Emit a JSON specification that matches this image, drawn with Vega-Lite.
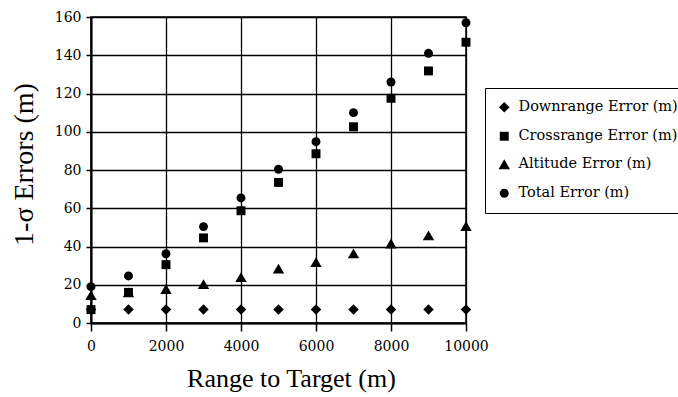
{
  "$schema": "https://vega.github.io/schema/vega-lite/v6.json",
  "width": 375,
  "height": 306,
  "autosize": "none",
  "padding": {"left": 91, "top": 17, "right": 212, "bottom": 74},
  "background": "white",
  "data": {
    "values": [
      {"range": 0, "type": "Downrange Error (m)", "value": 7},
      {"range": 1000, "type": "Downrange Error (m)", "value": 7},
      {"range": 2000, "type": "Downrange Error (m)", "value": 7},
      {"range": 3000, "type": "Downrange Error (m)", "value": 7},
      {"range": 4000, "type": "Downrange Error (m)", "value": 7},
      {"range": 5000, "type": "Downrange Error (m)", "value": 7},
      {"range": 6000, "type": "Downrange Error (m)", "value": 7},
      {"range": 7000, "type": "Downrange Error (m)", "value": 7},
      {"range": 8000, "type": "Downrange Error (m)", "value": 7},
      {"range": 9000, "type": "Downrange Error (m)", "value": 7},
      {"range": 10000, "type": "Downrange Error (m)", "value": 7},
      {"range": 0, "type": "Crossrange Error (m)", "value": 7},
      {"range": 1000, "type": "Crossrange Error (m)", "value": 16},
      {"range": 2000, "type": "Crossrange Error (m)", "value": 30.5},
      {"range": 3000, "type": "Crossrange Error (m)", "value": 44.5},
      {"range": 4000, "type": "Crossrange Error (m)", "value": 58.7},
      {"range": 5000, "type": "Crossrange Error (m)", "value": 73.5},
      {"range": 6000, "type": "Crossrange Error (m)", "value": 88.5},
      {"range": 7000, "type": "Crossrange Error (m)", "value": 102.6},
      {"range": 8000, "type": "Crossrange Error (m)", "value": 117.5},
      {"range": 9000, "type": "Crossrange Error (m)", "value": 131.8},
      {"range": 10000, "type": "Crossrange Error (m)", "value": 146.8},
      {"range": 0, "type": "Altitude Error (m)", "value": 14.6},
      {"range": 1000, "type": "Altitude Error (m)", "value": 16},
      {"range": 2000, "type": "Altitude Error (m)", "value": 17.8},
      {"range": 3000, "type": "Altitude Error (m)", "value": 20.3},
      {"range": 4000, "type": "Altitude Error (m)", "value": 24},
      {"range": 5000, "type": "Altitude Error (m)", "value": 28.4},
      {"range": 6000, "type": "Altitude Error (m)", "value": 31.8},
      {"range": 7000, "type": "Altitude Error (m)", "value": 36.4},
      {"range": 8000, "type": "Altitude Error (m)", "value": 41.6},
      {"range": 9000, "type": "Altitude Error (m)", "value": 45.8},
      {"range": 10000, "type": "Altitude Error (m)", "value": 50.7},
      {"range": 0, "type": "Total Error (m)", "value": 19},
      {"range": 1000, "type": "Total Error (m)", "value": 24.6},
      {"range": 2000, "type": "Total Error (m)", "value": 36.2},
      {"range": 3000, "type": "Total Error (m)", "value": 50.4},
      {"range": 4000, "type": "Total Error (m)", "value": 65.4},
      {"range": 5000, "type": "Total Error (m)", "value": 80.4},
      {"range": 6000, "type": "Total Error (m)", "value": 94.8},
      {"range": 7000, "type": "Total Error (m)", "value": 110},
      {"range": 8000, "type": "Total Error (m)", "value": 126},
      {"range": 9000, "type": "Total Error (m)", "value": 141},
      {"range": 10000, "type": "Total Error (m)", "value": 157}
    ]
  },
  "mark": {"type": "point", "filled": true, "opacity": 1, "color": "black"},
  "encoding": {
    "x": {
      "field": "range", "type": "quantitative",
      "scale": {"domain": [0, 10000], "nice": false, "zero": false},
      "axis": {
        "values": [0, 2000, 4000, 6000, 8000, 10000],
        "format": "d",
        "labelFlush": false,
        "title": "Range to Target (m)",
        "titleX": 200,
        "titleFont": "Liberation Serif", "titleFontSize": 26, "titleFontWeight": "normal",
        "titleColor": "black", "titlePadding": 12,
        "labelFont": "DejaVu Serif", "labelFontSize": 14, "labelColor": "black",
        "labelPadding": 8,
        "domainColor": "black", "domainWidth": 2,
        "tickColor": "black", "tickWidth": 1.5, "tickSize": 8,
        "grid": true, "gridColor": "black", "gridWidth": 1.3, "gridOpacity": 1
      }
    },
    "y": {
      "field": "value", "type": "quantitative",
      "scale": {"domain": [0, 160], "nice": false},
      "axis": {
        "values": [0, 20, 40, 60, 80, 100, 120, 140, 160],
        "labelFlush": false,
        "title": "1-σ Errors (m)",
        "titleY": 147,
        "titleFont": "Liberation Serif", "titleFontSize": 28, "titleFontWeight": "normal",
        "titleColor": "black", "titlePadding": 16,
        "labelFont": "DejaVu Serif", "labelFontSize": 14, "labelColor": "black",
        "labelPadding": 5,
        "domainColor": "black", "domainWidth": 2,
        "tickColor": "black", "tickWidth": 1.5, "tickSize": 5,
        "grid": true, "gridColor": "black", "gridWidth": 1.3, "gridOpacity": 1
      }
    },
    "shape": {
      "field": "type", "type": "nominal",
      "scale": {
        "domain": ["Downrange Error (m)", "Crossrange Error (m)", "Altitude Error (m)", "Total Error (m)"],
        "range": ["diamond", "square", "triangle-up", "circle"]
      },
      "legend": {
        "title": null,
        "orient": "none",
        "legendX": 394,
        "legendY": 71,
        "strokeColor": "black",
        "padding": 12,
        "fillColor": "white",
        "symbolFillColor": "black",
        "symbolStrokeColor": "black",
        "labelFont": "DejaVu Serif",
        "labelFontSize": 14.5,
        "labelColor": "black",
        "labelOffset": 7,
        "rowPadding": 12,
        "encode": {"legend": {"update": {"strokeWidth": {"value": 1.5}}}}
      }
    },
    "size": {
      "field": "type", "type": "ordinal",
      "scale": {
        "type": "ordinal",
        "domain": ["Downrange Error (m)", "Crossrange Error (m)", "Altitude Error (m)", "Total Error (m)"],
        "range": [110, 80, 130, 80]
      },
      "legend": {
        "title": null,
        "orient": "none",
        "legendX": 394,
        "legendY": 71,
        "strokeColor": "black",
        "padding": 12,
        "fillColor": "white",
        "symbolFillColor": "black",
        "symbolStrokeColor": "black",
        "labelFont": "DejaVu Serif",
        "labelFontSize": 14.5,
        "labelColor": "black",
        "labelOffset": 7,
        "rowPadding": 12,
        "encode": {"legend": {"update": {"strokeWidth": {"value": 1.5}}}}
      }
    }
  },
  "config": {
    "view": {"stroke": "black", "strokeWidth": 1.5}
  }
}
